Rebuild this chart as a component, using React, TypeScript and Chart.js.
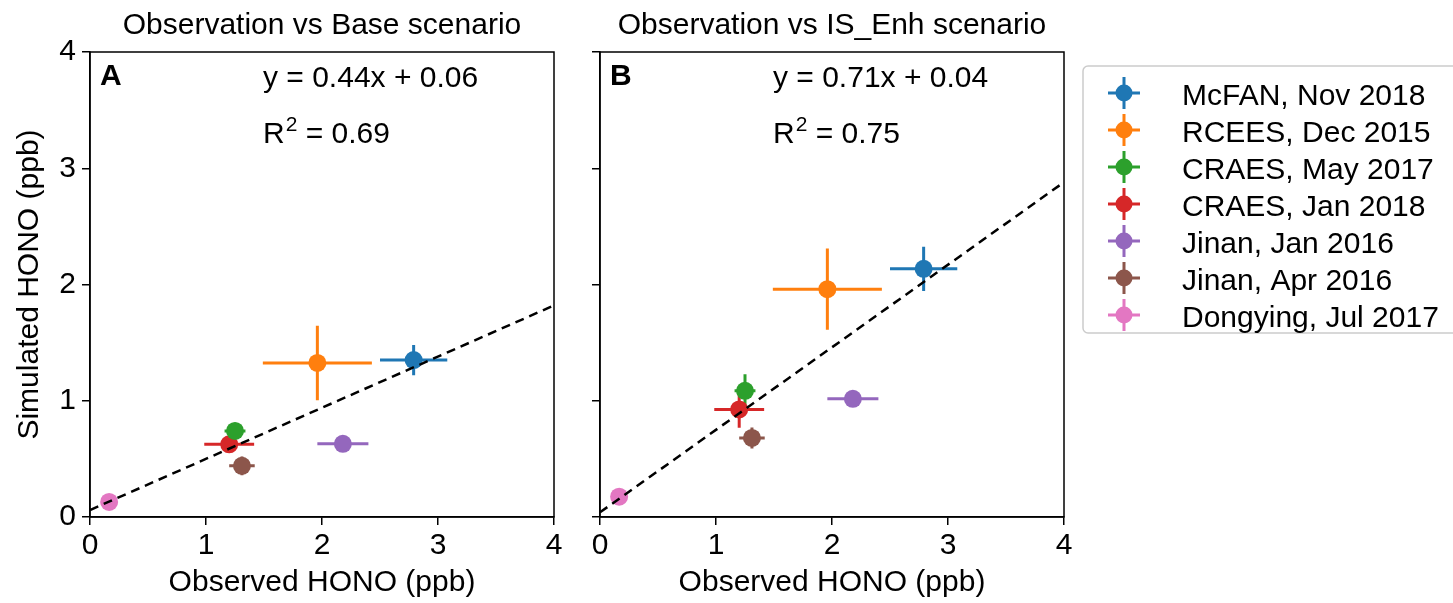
import React, { useEffect, useRef } from "react";
import { Chart, registerables } from "chart.js";

Chart.register(...registerables);

// ---------------- data ----------------
const sites = [
  "McFAN, Nov 2018",
  "RCEES, Dec 2015",
  "CRAES, May 2017",
  "CRAES, Jan 2018",
  "Jinan, Jan 2016",
  "Jinan, Apr 2016",
  "Dongying, Jul 2017",
];
const siteColors = ["#1f77b4", "#ff7f0e", "#2ca02c", "#d62728", "#9467bd", "#8c564b", "#e377c2"];
const observed = [2.79, 1.96, 1.25, 1.2, 2.18, 1.31, 0.165];
const observedErr = [0.29, 0.47, 0.09, 0.215, 0.22, 0.11, 0.02];
const baseSim = [1.35, 1.325, 0.74, 0.625, 0.63, 0.44, 0.13];
const baseSimErr = [0.13, 0.32, 0.07, 0.04, 0.03, 0.08, 0.02];
const enhSim = [2.135, 1.96, 1.085, 0.925, 1.017, 0.68, 0.175];
const enhSimErr = [0.19, 0.35, 0.144, 0.158, 0.03, 0.09, 0.02];
const fitSlope = [0.44, 0.71];
const fitIntercept = [0.06, 0.04];
const fitR2 = ["0.69", "0.75"];
const panelTitles = ["Observation vs Base scenario", "Observation vs IS_Enh scenario"];
const panelLetters = ["A", "B"];
const axisTicks = [0, 1, 2, 3, 4];
const xAxisLabel = "Observed HONO (ppb)";
const yAxisLabel = "Simulated HONO (ppb)";

const FONT = "'Liberation Sans', Arial, Helvetica, sans-serif";
const FS = 30;

function fmt(v: number) {
  return v.toFixed(2);
}

function makePanel(canvas: HTMLCanvasElement, idx: number) {
  const sim = idx === 0 ? baseSim : enhSim;
  const simErr = idx === 0 ? baseSimErr : enhSimErr;
  const isA = idx === 0;
  const axMin = axisTicks[0];
  const axMax = axisTicks[axisTicks.length - 1];
  const a = fitSlope[idx];
  const b = fitIntercept[idx];

  const errPlugin = {
    id: "errbars" + idx,
    beforeDatasetsDraw(chart: any) {
      const ctx = chart.ctx;
      const xs = chart.scales.x;
      const ys = chart.scales.y;
      ctx.save();
      ctx.lineWidth = 3;
      ctx.lineCap = "butt";
      for (let i = 0; i < sites.length; i++) {
        const px = xs.getPixelForValue(observed[i]);
        const py = ys.getPixelForValue(sim[i]);
        ctx.strokeStyle = siteColors[i];
        ctx.beginPath();
        ctx.moveTo(xs.getPixelForValue(observed[i] - observedErr[i]), py);
        ctx.lineTo(xs.getPixelForValue(observed[i] + observedErr[i]), py);
        ctx.moveTo(px, ys.getPixelForValue(sim[i] - simErr[i]));
        ctx.lineTo(px, ys.getPixelForValue(sim[i] + simErr[i]));
        ctx.stroke();
      }
      ctx.restore();
    },
  };

  const decorPlugin = {
    id: "decor" + idx,
    afterDraw(chart: any) {
      const ctx = chart.ctx;
      const ca = chart.chartArea;
      ctx.save();
      // frame
      ctx.strokeStyle = "#000";
      ctx.lineWidth = 1.5;
      ctx.strokeRect(ca.left, ca.top, ca.right - ca.left, ca.bottom - ca.top);
      ctx.fillStyle = "#000";
      // title
      ctx.font = `${FS}px ${FONT}`;
      ctx.textAlign = "center";
      ctx.textBaseline = "alphabetic";
      ctx.fillText(panelTitles[idx], (ca.left + ca.right) / 2, 34);
      // letter
      ctx.font = `bold ${FS}px ${FONT}`;
      ctx.textAlign = "left";
      ctx.fillText(panelLetters[idx], ca.left + 10, 85);
      // equation
      ctx.font = `${FS}px ${FONT}`;
      const ex = ca.left + 173;
      ctx.fillText(`y = ${fmt(a)}x + ${fmt(b)}`, ex, 87);
      // R^2
      ctx.fillText("R", ex, 143);
      const rw = ctx.measureText("R").width;
      ctx.font = `${Math.round(FS * 0.7)}px ${FONT}`;
      ctx.fillText("2", ex + rw + 1, 131);
      const sw = ctx.measureText("2").width;
      ctx.font = `${FS}px ${FONT}`;
      ctx.fillText(` = ${fitR2[idx]}`, ex + rw + 1 + sw, 143);
      ctx.restore();

      if (!isA) {
        // legend
        ctx.save();
        const lx = ca.right + 19;
        const ly = 66;
        const lw = 400;
        const lh = 267;
        const r = 5;
        ctx.strokeStyle = "#cccccc";
        ctx.lineWidth = 1.5;
        ctx.fillStyle = "rgba(255,255,255,0.8)";
        ctx.beginPath();
        ctx.moveTo(lx + r, ly);
        ctx.lineTo(lx + lw - r, ly);
        ctx.arcTo(lx + lw, ly, lx + lw, ly + r, r);
        ctx.lineTo(lx + lw, ly + lh - r);
        ctx.arcTo(lx + lw, ly + lh, lx + lw - r, ly + lh, r);
        ctx.lineTo(lx + r, ly + lh);
        ctx.arcTo(lx, ly + lh, lx, ly + lh - r, r);
        ctx.lineTo(lx, ly + r);
        ctx.arcTo(lx, ly, lx + r, ly, r);
        ctx.closePath();
        ctx.fill();
        ctx.stroke();
        for (let i = 0; i < sites.length; i++) {
          const cy = 93 + i * 37;
          const mx = lx + 41;
          ctx.strokeStyle = siteColors[i];
          ctx.lineWidth = 3;
          ctx.beginPath();
          ctx.moveTo(mx - 16, cy);
          ctx.lineTo(mx + 16, cy);
          ctx.moveTo(mx, cy - 16);
          ctx.lineTo(mx, cy + 16);
          ctx.stroke();
          ctx.fillStyle = siteColors[i];
          ctx.beginPath();
          ctx.arc(mx, cy, 8.5, 0, Math.PI * 2);
          ctx.fill();
          ctx.fillStyle = "#000";
          ctx.font = `${FS}px ${FONT}`;
          ctx.textAlign = "left";
          ctx.textBaseline = "alphabetic";
          ctx.fillText(sites[i], lx + 99, cy + 12);
        }
        ctx.restore();
      }
    },
  };

  const datasets: any[] = [
    {
      type: "line",
      label: "fit",
      data: [
        { x: axMin, y: a * axMin + b },
        { x: axMax, y: a * axMax + b },
      ],
      borderColor: "#000",
      borderWidth: 2.5,
      borderDash: [9, 6],
      pointRadius: 0,
      fill: false,
    },
  ];
  for (let i = 0; i < sites.length; i++) {
    datasets.push({
      type: "scatter",
      label: sites[i],
      data: [{ x: observed[i], y: sim[i] }],
      backgroundColor: siteColors[i],
      borderWidth: 0,
      pointRadius: 9,
      pointHoverRadius: 9,
    });
  }

  const tickFont = { size: FS, family: FONT };
  const gridCfg = {
    display: true,
    drawOnChartArea: false,
    drawTicks: true,
    tickLength: 8,
    color: "#000",
    lineWidth: 1.5,
  };

  return new Chart(canvas, {
    type: "scatter",
    data: { datasets },
    options: {
      animation: false,
      responsive: false,
      devicePixelRatio: 1,
      events: [],
      layout: {
        padding: isA
          ? { left: 0, top: 52, right: 23, bottom: 0 }
          : { left: 0, top: 52, right: 389, bottom: 0 },
      },
      plugins: {
        legend: { display: false },
        tooltip: { enabled: false },
        title: { display: false },
      },
      scales: {
        x: {
          type: "linear",
          min: axMin,
          max: axMax,
          afterBuildTicks: (s: any) => {
            s.ticks = axisTicks.map((v) => ({ value: v }));
          },
          ticks: { color: "#000", font: tickFont, padding: 3, maxRotation: 0, autoSkip: false },
          grid: gridCfg,
          border: { display: true, color: "#000", width: 1.5 },
          title: {
            display: true,
            text: xAxisLabel,
            color: "#000",
            font: tickFont,
            padding: { top: 0, bottom: 2 },
          },
          afterFit: (s: any) => {
            s.height = 86;
          },
        },
        y: {
          type: "linear",
          min: axMin,
          max: axMax,
          afterBuildTicks: (s: any) => {
            s.ticks = axisTicks.map((v) => ({ value: v }));
          },
          ticks: {
            color: "#000",
            font: tickFont,
            padding: 6,
            autoSkip: false,
            callback: (v: any) => (isA ? String(v) : ""),
          },
          grid: gridCfg,
          border: { display: true, color: "#000", width: 1.5 },
          title: {
            display: isA,
            text: yAxisLabel,
            color: "#000",
            font: tickFont,
            padding: { top: 12, bottom: 0 },
          },
          afterFit: (s: any) => {
            s.width = isA ? 90 : 23;
          },
        },
      },
    } as any,
    plugins: [errPlugin, decorPlugin],
  });
}

export default function App() {
  const refA = useRef<HTMLCanvasElement | null>(null);
  const refB = useRef<HTMLCanvasElement | null>(null);

  useEffect(() => {
    document.body.style.margin = "0";
    const cA = makePanel(refA.current!, 0);
    const cB = makePanel(refB.current!, 1);
    return () => {
      cA.destroy();
      cB.destroy();
    };
  }, []);

  return (
    <div style={{ position: "fixed", left: 0, top: 0, width: 1453, height: 603, background: "#fff", overflow: "hidden" }}>
      <canvas
        ref={refA}
        width={577}
        height={603}
        style={{ position: "absolute", left: 0, top: 0, width: 577, height: 603 }}
      />
      <canvas
        ref={refB}
        width={876}
        height={603}
        style={{ position: "absolute", left: 577, top: 0, width: 876, height: 603 }}
      />
    </div>
  );
}
